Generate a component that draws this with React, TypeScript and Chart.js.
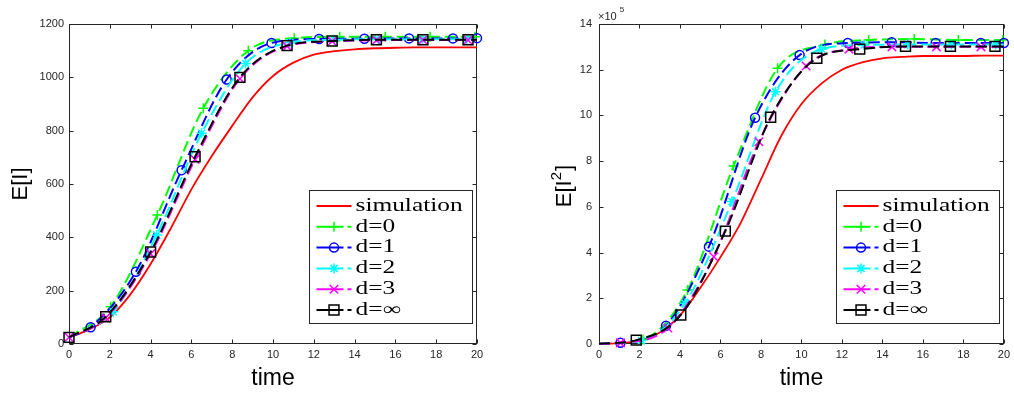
import React, { useEffect, useRef } from "react";
import { Chart, registerables } from "chart.js";

Chart.register(...registerables);

// ---------------- data ----------------
const LABELS = ["simulation", "d=0", "d=1", "d=2", "d=3", "d=\u221e"];
const TIME_MIN = 0;
const TIME_MAX = 20;
const TIME_STEP = 2;
const EI_MAX = 1200;
const EI_STEP = 200;
const EI2_MAX = 14; // in units of 10^5
const EI2_STEP = 2;

// simulation (solid red)
const SIM_T = [0, 1, 2, 3, 4, 5, 6, 7, 8, 9, 10, 11, 12, 13, 14, 15, 16, 17, 18, 19, 20];
const SIM_EI = [25, 55, 100, 185, 300, 435, 580, 705, 818, 925, 1005, 1055, 1085, 1098, 1105, 1109, 1111, 1112, 1112, 1112, 1112];
const SIM_EI2 = [0.006, 0.04, 0.15, 0.5, 1.25, 2.45, 3.8, 5.3, 7.2, 9.1, 10.5, 11.4, 12.0, 12.32, 12.5, 12.56, 12.6, 12.6, 12.6, 12.62, 12.62];

// E[I] moment closures
const D0_EI_T = [0, 2.04, 4.33, 6.58, 8.79, 11.04, 13.27, 15.5, 17.7, 19.9, 20];
const D0_EI_V = [25, 140, 484, 884, 1100, 1147, 1152, 1152, 1152, 1152, 1152];
const D0_EI_MARKED = [0, 1, 1, 1, 1, 1, 1, 1, 1, 1, 0];

const D1_EI_T = [0, 1.06, 3.28, 5.52, 7.73, 9.93, 12.26, 14.48, 16.67, 18.82, 20];
const D1_EI_V = [25, 63, 271, 652, 992, 1129, 1144, 1145, 1146, 1146, 1147];
const D1_EI_MARKED = [0, 1, 1, 1, 1, 1, 1, 1, 1, 1, 1];

const D2_EI_T = [0, 2.17, 4.3, 6.5, 8.66, 10.83, 13.0, 15.17, 17.33, 19.5, 20];
const D2_EI_V = [25, 121, 409, 790, 1052, 1130, 1141, 1143, 1143, 1143, 1143];
const D2_EI_MARKED = [0, 1, 1, 1, 1, 1, 1, 1, 1, 1, 0];

const D3_EI_T = [0, 1.8, 4.0, 6.18, 8.38, 10.69, 12.9, 15.07, 17.35, 19.56, 20];
const D3_EI_V = [25, 98, 338, 692, 995, 1117, 1135, 1139, 1140, 1140, 1140];
const D3_EI_MARKED = [1, 1, 1, 1, 1, 1, 1, 1, 1, 1, 0];

const DINF_EI_T = [0, 1.8, 4.0, 6.18, 8.38, 10.69, 12.9, 15.07, 17.35, 19.56, 20];
const DINF_EI_V = [25, 102, 345, 702, 1000, 1119, 1136, 1141, 1141, 1141, 1141];
const DINF_EI_MARKED = [1, 1, 1, 1, 1, 1, 1, 1, 1, 1, 0];

// E[I^2] moment closures (x 10^5)
const D0_EI2_T = [0, 2.17, 4.37, 6.65, 8.82, 11.16, 13.32, 15.57, 17.75, 19.95];
const D0_EI2_V = [0.006, 0.2, 2.36, 7.79, 12.06, 13.1, 13.3, 13.34, 13.3, 13.3];
const D0_EI2_MARKED = [0, 1, 1, 1, 1, 1, 1, 1, 1, 1];

const D1_EI2_T = [0, 1.06, 3.31, 5.43, 7.71, 9.91, 12.29, 14.46, 16.63, 18.86, 20];
const D1_EI2_V = [0.006, 0.05, 0.8, 4.26, 9.9, 12.64, 13.17, 13.2, 13.17, 13.17, 13.17];
const D1_EI2_MARKED = [0, 1, 1, 1, 1, 1, 1, 1, 1, 1, 1];

const D2_EI2_T = [0, 2.1, 4.25, 6.57, 8.72, 11.0, 13.1, 15.25, 17.4, 19.6, 20];
const D2_EI2_V = [0.006, 0.15, 1.78, 6.23, 11.04, 12.9, 13.08, 13.1, 13.1, 13.1, 13.1];
const D2_EI2_MARKED = [0, 1, 1, 1, 1, 1, 1, 1, 1, 1, 0];

const D3_EI2_T = [0, 1.06, 3.4, 5.67, 7.9, 10.23, 12.35, 14.47, 16.67, 18.87, 20];
const D3_EI2_V = [0.006, 0.05, 0.7, 3.82, 8.85, 12.16, 12.9, 13.0, 13.0, 13.0, 13.0];
const D3_EI2_MARKED = [0, 1, 1, 1, 1, 1, 1, 1, 1, 1, 0];

const DINF_EI2_T = [0, 1.84, 4.04, 6.24, 8.48, 10.76, 12.88, 15.14, 17.36, 19.56, 20];
const DINF_EI2_V = [0.006, 0.17, 1.27, 4.94, 9.92, 12.5, 12.9, 13.02, 13.02, 13.02, 13.02];
const DINF_EI2_MARKED = [0, 1, 1, 1, 1, 1, 1, 1, 1, 1, 0];

// ---------------- styles ----------------
const AXIS = "#262626";
const SANS = "'Liberation Sans', Arial, Helvetica, sans-serif";
const SERIF = "'Liberation Serif', 'Times New Roman', serif";
const DASH = [11, 5];

type St = { color: string; pointStyle: string; radius: number; dashed: boolean };
const STYLES: St[] = [
  { color: "#ff0000", pointStyle: "circle", radius: 0, dashed: false },
  { color: "#00ff00", pointStyle: "cross", radius: 5, dashed: true },
  { color: "#0000ff", pointStyle: "circle", radius: 4.5, dashed: true },
  { color: "#00ffff", pointStyle: "star", radius: 5, dashed: true },
  { color: "#ff00ff", pointStyle: "crossRot", radius: 6, dashed: true },
  { color: "#000000", pointStyle: "rect", radius: 7, dashed: true },
];

type Curve = { t: number[]; v: number[]; m: number[] };

function buildDatasets(curves: Curve[]) {
  return curves.map((c, i) => {
    const st = STYLES[i];
    return {
      label: LABELS[i],
      data: c.t.map((x, k) => ({ x, y: c.v[k], m: c.m[k] })),
      borderColor: st.color,
      borderWidth: i === 0 ? 1.8 : 2,
      borderDash: st.dashed ? DASH : [],
      pointStyle: st.pointStyle,
      pointRadius: (ctx: any) => (ctx.raw && ctx.raw.m ? st.radius : 0),
      pointHoverRadius: 0,
      pointBorderColor: st.color,
      pointBackgroundColor: "rgba(0,0,0,0)",
      pointBorderWidth: 1.5,
      cubicInterpolationMode: "monotone",
      fill: false,
      clip: false,
      order: curves.length - i,
    };
  });
}

function drawMarker(ctx: CanvasRenderingContext2D, style: string, x: number, y: number, r: number) {
  ctx.beginPath();
  const d = r * Math.SQRT1_2;
  if (style === "circle") {
    ctx.arc(x, y, r, 0, Math.PI * 2);
  } else if (style === "rect") {
    ctx.rect(x - d, y - d, 2 * d, 2 * d);
  } else {
    if (style === "cross" || style === "star") {
      ctx.moveTo(x - r, y);
      ctx.lineTo(x + r, y);
      ctx.moveTo(x, y - r);
      ctx.lineTo(x, y + r);
    }
    if (style === "crossRot" || style === "star") {
      ctx.moveTo(x - d, y - d);
      ctx.lineTo(x + d, y + d);
      ctx.moveTo(x - d, y + d);
      ctx.lineTo(x + d, y - d);
    }
  }
  ctx.stroke();
}

type PanelProps = {
  left: number;
  curves: Curve[];
  yMax: number;
  yStep: number;
  yAxisWidth: number;
  rightPad: number;
  yTickPad: number;
  yTitle: string | null;
  extra?: (ctx: CanvasRenderingContext2D, chart: any) => void;
};

function makeFramePlugin(extra?: (ctx: CanvasRenderingContext2D, chart: any) => void) {
  return {
    id: "matlabFrame",
    beforeDatasetsDraw(chart: any) {
      const { ctx, chartArea: a, scales } = chart;
      const L = Math.round(a.left) + 0.5;
      const R = Math.round(a.right) - 0.5;
      const T = Math.round(a.top) + 0.5;
      const B = Math.round(a.bottom) - 0.5;
      ctx.save();
      ctx.strokeStyle = AXIS;
      ctx.lineWidth = 1;
      ctx.strokeRect(L, T, R - L, B - T);
      const tl = 4;
      ctx.beginPath();
      for (const tk of scales.x.ticks) {
        const px = Math.round(scales.x.getPixelForValue(tk.value)) + 0.5;
        ctx.moveTo(px, B);
        ctx.lineTo(px, B - tl);
        ctx.moveTo(px, T);
        ctx.lineTo(px, T + tl);
      }
      for (const tk of scales.y.ticks) {
        const py = Math.round(scales.y.getPixelForValue(tk.value)) + 0.5;
        ctx.moveTo(L, py);
        ctx.lineTo(L + tl, py);
        ctx.moveTo(R, py);
        ctx.lineTo(R - tl, py);
      }
      ctx.stroke();
      ctx.restore();
    },
    afterDatasetsDraw(chart: any) {
      const { ctx, chartArea: a } = chart;
      const w = 163;
      const h = 133;
      const bx = Math.round(a.right - 5 - w) + 0.5;
      const by = Math.round(a.bottom - 21 - h) + 0.5;
      ctx.save();
      ctx.fillStyle = "#ffffff";
      ctx.fillRect(bx, by, w, h);
      ctx.strokeStyle = AXIS;
      ctx.lineWidth = 1;
      ctx.strokeRect(bx, by, w, h);
      for (let i = 0; i < LABELS.length; i++) {
        const st = STYLES[i];
        const ry = by + 15.5 + i * 20.8;
        const x0 = bx + 7;
        const x1 = bx + 42;
        ctx.strokeStyle = st.color;
        ctx.lineWidth = 2;
        ctx.setLineDash([]);
        ctx.beginPath();
        if (st.dashed) {
          ctx.moveTo(x0, ry);
          ctx.lineTo(x0 + 27, ry);
          ctx.moveTo(x0 + 31, ry);
          ctx.lineTo(x1, ry);
        } else {
          ctx.moveTo(x0, ry);
          ctx.lineTo(x1, ry);
        }
        ctx.stroke();
        if (st.radius > 0) {
          ctx.lineWidth = 1.5;
          drawMarker(ctx, st.pointStyle, bx + 24.5, ry, st.radius);
        }
        ctx.save();
        ctx.translate(bx + 46, ry);
        ctx.scale(1.41, 1);
        ctx.fillStyle = "#000";
        ctx.font = `18px ${SERIF}`;
        ctx.textBaseline = "middle";
        ctx.textAlign = "left";
        ctx.fillText(LABELS[i], 0, 0);
        ctx.restore();
      }
      ctx.restore();
      if (extra) {
        ctx.save();
        extra(ctx, chart);
        ctx.restore();
      }
    },
  };
}

function Panel(props: PanelProps) {
  const ref = useRef<HTMLCanvasElement>(null);
  useEffect(() => {
    const canvas = ref.current!;
    const chart = new Chart(canvas, {
      type: "line",
      data: { datasets: buildDatasets(props.curves) as any },
      options: {
        responsive: false,
        animation: false,
        devicePixelRatio: 1,
        events: [],
        layout: { padding: { left: 0, top: 24, right: props.rightPad, bottom: 0 } },
        plugins: { legend: { display: false }, tooltip: { enabled: false } },
        scales: {
          x: {
            type: "linear",
            min: TIME_MIN,
            max: TIME_MAX,
            ticks: {
              stepSize: TIME_STEP,
              color: AXIS,
              font: { family: SANS, size: 11 },
              padding: 4,
              maxRotation: 0,
              autoSkip: false,
              callback: (v: any) => String(v),
            },
            grid: { display: false, drawTicks: false },
            border: { display: false },
            title: {
              display: true,
              text: "time",
              color: "#000",
              font: { family: SANS, size: 23 },
              padding: { top: 0, bottom: 1 },
            },
            afterFit: (s: any) => {
              s.height = 49;
            },
          },
          y: {
            type: "linear",
            min: 0,
            max: props.yMax,
            ticks: {
              stepSize: props.yStep,
              color: AXIS,
              font: { family: SANS, size: 11 },
              padding: props.yTickPad,
              callback: (v: any) => String(v),
            },
            grid: { display: false, drawTicks: false },
            border: { display: false },
            title: {
              display: !!props.yTitle,
              text: props.yTitle || "",
              color: "#000",
              font: { family: SANS, size: 22 },
              padding: { top: 8, bottom: 0 },
            },
            afterFit: (s: any) => {
              s.width = props.yAxisWidth;
            },
          },
        },
      } as any,
      plugins: [makeFramePlugin(props.extra)],
    });
    return () => chart.destroy();
  }, []);
  return (
    <canvas
      ref={ref}
      width={507}
      height={393}
      style={{ position: "absolute", left: props.left, top: 0, width: 507, height: 393 }}
    />
  );
}

const leftCurves: Curve[] = [
  { t: SIM_T, v: SIM_EI, m: SIM_T.map(() => 0) },
  { t: D0_EI_T, v: D0_EI_V, m: D0_EI_MARKED },
  { t: D1_EI_T, v: D1_EI_V, m: D1_EI_MARKED },
  { t: D2_EI_T, v: D2_EI_V, m: D2_EI_MARKED },
  { t: D3_EI_T, v: D3_EI_V, m: D3_EI_MARKED },
  { t: DINF_EI_T, v: DINF_EI_V, m: DINF_EI_MARKED },
];

const rightCurves: Curve[] = [
  { t: SIM_T, v: SIM_EI2, m: SIM_T.map(() => 0) },
  { t: D0_EI2_T, v: D0_EI2_V, m: D0_EI2_MARKED },
  { t: D1_EI2_T, v: D1_EI2_V, m: D1_EI2_MARKED },
  { t: D2_EI2_T, v: D2_EI2_V, m: D2_EI2_MARKED },
  { t: D3_EI2_T, v: D3_EI2_V, m: D3_EI2_MARKED },
  { t: DINF_EI2_T, v: DINF_EI2_V, m: DINF_EI2_MARKED },
];

function rightExtra(ctx: CanvasRenderingContext2D, chart: any) {
  const a = chart.chartArea;
  // exponent label
  ctx.fillStyle = AXIS;
  ctx.textBaseline = "middle";
  ctx.textAlign = "left";
  ctx.font = `11px ${SANS}`;
  ctx.fillText("\u00d710", a.left - 1, 17);
  const w = ctx.measureText("\u00d710").width;
  ctx.font = `8px ${SANS}`;
  ctx.fillText("5", a.left - 1 + w + 3, 10);
  // y title E[I^2]
  ctx.fillStyle = "#000";
  ctx.translate(58, (a.top + a.bottom) / 2 + 2);
  ctx.rotate(-Math.PI / 2);
  const big = `22px ${SANS}`;
  const small = `15px ${SANS}`;
  ctx.font = big;
  const w1 = ctx.measureText("E[I").width;
  const w3 = ctx.measureText("]").width;
  ctx.font = small;
  const w2 = ctx.measureText("2").width;
  let x = -(w1 + w2 + w3 + 1) / 2;
  ctx.textBaseline = "middle";
  ctx.font = big;
  ctx.fillText("E[I", x, 0);
  x += w1;
  ctx.font = small;
  ctx.fillText("2", x, -8);
  x += w2 + 1;
  ctx.font = big;
  ctx.fillText("]", x, 0);
}

export default function App() {
  return (
    <div style={{ position: "fixed", left: 0, top: 0, width: 1014, height: 393, background: "#fff" }}>
      <Panel
        left={0}
        curves={leftCurves}
        yMax={EI_MAX}
        yStep={EI_STEP}
        yAxisWidth={69}
        rightPad={30}
        yTickPad={5}
        yTitle="E[I]"
      />
      <Panel
        left={507}
        curves={rightCurves}
        yMax={EI2_MAX}
        yStep={EI2_STEP}
        yAxisWidth={92}
        rightPad={6}
        yTickPad={7}
        yTitle={null}
        extra={rightExtra}
      />
    </div>
  );
}
